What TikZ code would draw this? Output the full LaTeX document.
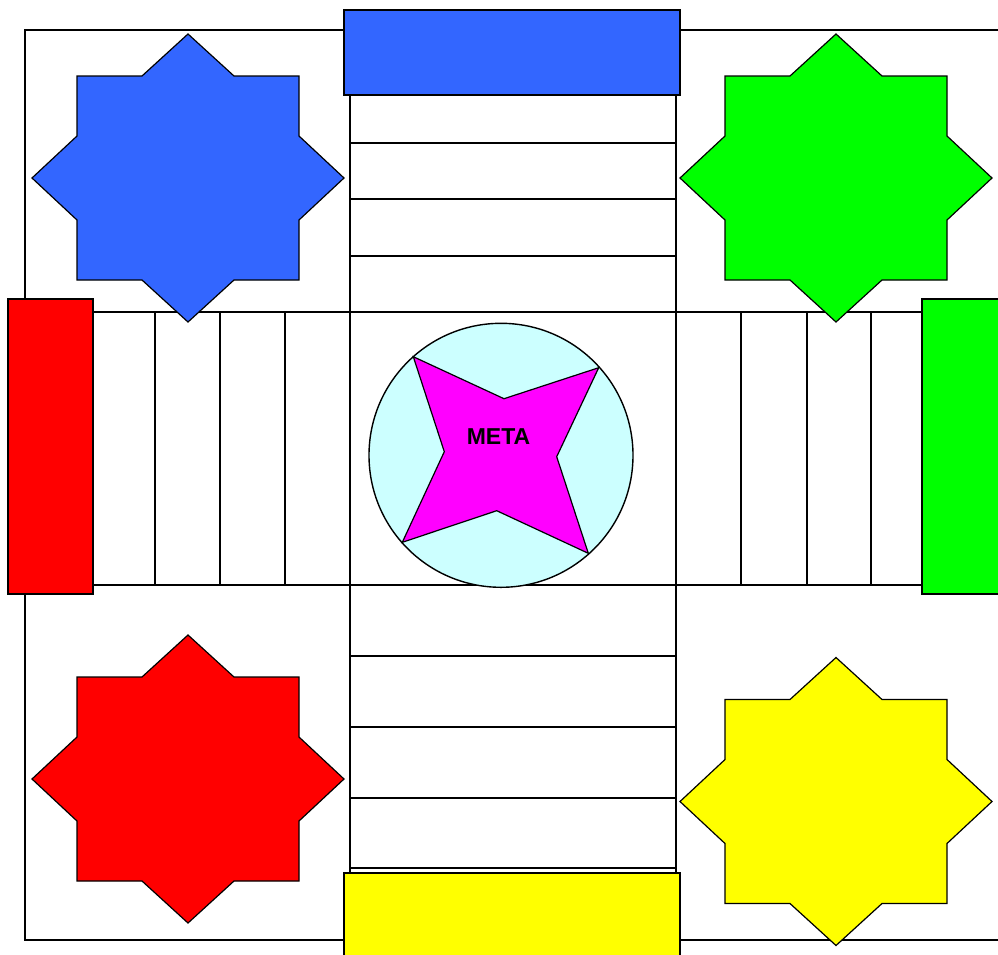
\documentclass[tikz,border=0pt]{standalone}
\usepackage{fontspec}
\setmainfont{Liberation Sans}
\definecolor{pblue}{HTML}{3366FF}
\definecolor{pgreen}{HTML}{00FF00}
\definecolor{pred}{HTML}{FF0000}
\definecolor{pyellow}{HTML}{FFFF00}
\definecolor{pcyan}{HTML}{CCFFFF}
\definecolor{pmagenta}{HTML}{FF00FF}
\newcommand{\ludostar}[3]{%
  \filldraw[starline, fill=#3, shift={(#1,#2)}]
    (0,-144) -- (46,-102) -- (111,-102) -- (111,-42) -- (156,0) -- (111,42)
    -- (111,102) -- (46,102) -- (0,144) -- (-46,102) -- (-111,102) -- (-111,42)
    -- (-156,0) -- (-111,-42) -- (-111,-102) -- (-46,-102) -- cycle;}
\begin{document}
\begin{tikzpicture}[x=1pt,y=-1pt,
  board/.style={line width=1.4pt, draw=black},
  starline/.style={line width=1.2pt, draw=black, line join=miter},
  homebox/.style={line width=1.2pt, draw=black}]
\useasboundingbox (0,0) rectangle (998,954);
\clip (0,0) rectangle (998,954);
\fill[white] (0,0) rectangle (998,954);
% outer frame
\draw[board] (25,30) rectangle (1010,940);
% vertical column
\draw[board] (350,95) -- (350,873);
\draw[board] (676,95) -- (676,873);
\foreach \yy in {143,199,256,585,656,727,798,868}
  \draw[board] (350,\yy) -- (676,\yy);
% horizontal band
\draw[board] (93,312) -- (922,312);
\draw[board] (93,585) -- (922,585);
\foreach \xx in {155,220,285,741,807,871}
  \draw[board] (\xx,312) -- (\xx,585);
% centre goal
\filldraw[board, fill=pcyan] (501,455.3) circle (132);
\filldraw[starline, fill=pmagenta]
  (413.3,356.7) -- (504,398.7) -- (598.7,367.7) -- (556.7,456.7)
  -- (588.3,553.3) -- (496.7,510.7) -- (402.3,542.3) -- (444.3,451.7) -- cycle;
\node[font=\bfseries, scale=2.3, inner sep=0pt] (meta) at (498.5,436.5) {META};
% home boxes
\filldraw[homebox, fill=pblue] (344,10) rectangle (680,95);
\filldraw[homebox, fill=pyellow] (344,873) rectangle (680,970);
\filldraw[homebox, fill=pred] (8,299) rectangle (93,594);
\filldraw[homebox, fill=pgreen] (922,299) rectangle (1010,594);
% stars
\ludostar{188}{178}{pblue}
\ludostar{836}{178}{pgreen}
\ludostar{188}{779}{pred}
\ludostar{836}{801.5}{pyellow}
\end{tikzpicture}
\end{document}
